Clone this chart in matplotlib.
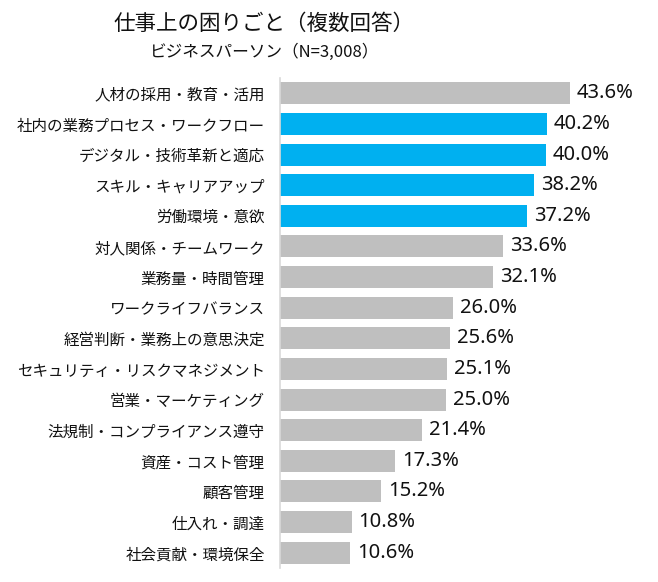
import matplotlib
matplotlib.use("Agg")
import matplotlib.pyplot as plt

plt.rcParams['font.family'] = ['Noto Sans CJK JP', 'DejaVu Sans']

categories = [
    "人材の採用・教育・活用",
    "社内の業務プロセス・ワークフロー",
    "デジタル・技術革新と適応",
    "スキル・キャリアアップ",
    "労働環境・意欲",
    "対人関係・チームワーク",
    "業務量・時間管理",
    "ワークライフバランス",
    "経営判断・業務上の意思決定",
    "セキュリティ・リスクマネジメント",
    "営業・マーケティング",
    "法規制・コンプライアンス遵守",
    "資産・コスト管理",
    "顧客管理",
    "仕入れ・調達",
    "社会貢献・環境保全",
]
values = [43.6, 40.2, 40.0, 38.2, 37.2, 33.6, 32.1, 26.0, 25.6, 25.1, 25.0, 21.4, 17.3, 15.2, 10.8, 10.6]
highlight = [False, True, True, True, True] + [False] * 11

title = "仕事上の困りごと（複数回答）"
subtitle = "ビジネスパーソン（N=3,008）"

W, H = 658, 582
fig = plt.figure(figsize=(W / 100, H / 100), dpi=100)
ax_left, ax_right = 280, 658
ax_top, ax_bottom = 78, 568
ax = fig.add_axes([ax_left / W, 1 - ax_bottom / H, (ax_right - ax_left) / W, (ax_bottom - ax_top) / H])

colors = ["#00B0F0" if h else "#BFBFBF" for h in highlight]
y = list(range(len(categories)))
ax.barh(y, values, height=0.72, color=colors, zorder=2)
ax.set_xlim(0, (ax_right - ax_left) / 6.65)
ax.set_ylim(len(categories) - 0.5, -0.5)

for yi, v in zip(y, values):
    ax.text(v + 1.0, yi, f"{v:.1f}%", va="center", ha="left", fontsize=14.5,
            fontweight="semibold", color="#111111", family=['Noto Sans', 'DejaVu Sans'])

ax.set_yticks(y)
ax.set_yticklabels(categories, fontsize=11.2)
ax.tick_params(axis="y", length=0, pad=11, colors="#111111")
ax.set_xticks([])
for s in ["top", "right", "bottom"]:
    ax.spines[s].set_visible(False)
ax.spines["left"].set_color("#D9D9D9")
ax.spines["left"].set_linewidth(1.2)

fig.text(264 / W, 1 - 24 / H, title, ha="center", va="center", fontsize=15.5, color="#111111")
fig.text(265 / W, 1 - 52 / H, subtitle, ha="center", va="center", fontsize=12, color="#111111")

fig.savefig("out.png", dpi=100)
